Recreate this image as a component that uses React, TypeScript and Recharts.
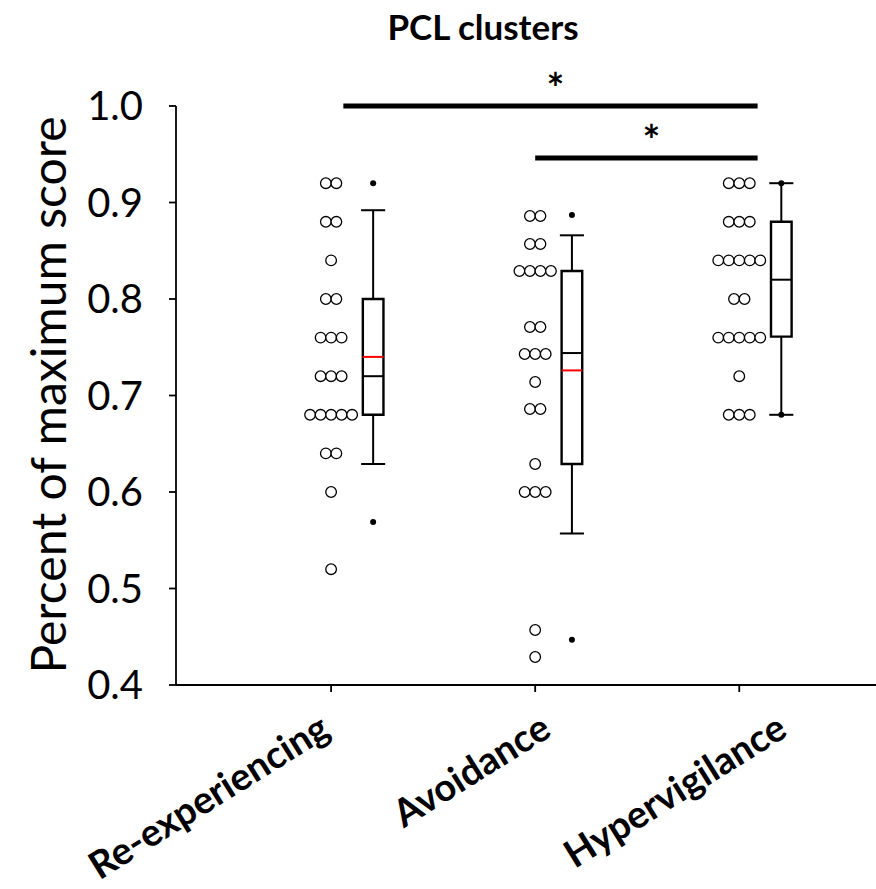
import React from "react";
import {
  ComposedChart,
  Scatter,
  XAxis,
  YAxis,
  ReferenceArea,
  ReferenceLine,
} from "recharts";

const FONT = "Lato, 'Open Sans', sans-serif";

const categories = ["Re-experiencing", "Avoidance", "Hypervigilance"];
const categoryPos = [1, 2, 3];
const yTicks = [0.4, 0.5, 0.6, 0.7, 0.8, 0.9, 1.0];

// individual subject scores (fraction of max)
const reExperiencing = [
  0.92, 0.92, 0.88, 0.88, 0.84, 0.8, 0.8, 0.76, 0.76, 0.76, 0.72, 0.72, 0.72,
  0.68, 0.68, 0.68, 0.68, 0.68, 0.64, 0.64, 0.6, 0.52,
];
const avoidance = [
  0.886, 0.886, 0.857, 0.857, 0.829, 0.829, 0.829, 0.829, 0.771, 0.771, 0.743,
  0.743, 0.743, 0.714, 0.686, 0.686, 0.629, 0.6, 0.6, 0.6, 0.457, 0.429,
];
const hypervigilance = [
  0.92, 0.92, 0.92, 0.88, 0.88, 0.88, 0.84, 0.84, 0.84, 0.84, 0.84, 0.8, 0.8,
  0.76, 0.76, 0.76, 0.76, 0.76, 0.72, 0.68, 0.68, 0.68,
];

// box plot summaries
const whiskerLow = [0.629, 0.557, 0.68];
const q1 = [0.68, 0.629, 0.761];
const median = [0.72, 0.744, 0.82];
const q3 = [0.8, 0.829, 0.88];
const whiskerHigh = [0.892, 0.866, 0.92];
const means: (number | null)[] = [0.74, 0.726, null];
const outliers = [
  [0.92, 0.569],
  [0.887, 0.447],
  [0.92, 0.68],
];

// significance brackets
const sigFrom = [1.06, 2.0];
const sigTo = [3.09, 3.09];
const sigLevel = [1.0, 0.946];

// layout
const DOT_STEP = 0.0515;
const BOX_SHIFT = [0.206, 0.18, 0.206];
const BOX_HALF = 0.0505;
const CAP_HALF = 0.059;
const LABEL_NUDGE = [1, 18, 50];

function buildDots(values: number[], pos: number) {
  const counts = new Map<number, number>();
  values.forEach((v) => counts.set(v, (counts.get(v) || 0) + 1));
  const seen = new Map<number, number>();
  return values.map((v) => {
    const n = counts.get(v) || 1;
    const k = seen.get(v) || 0;
    seen.set(v, k + 1);
    return { x: pos + (k - (n - 1) / 2) * DOT_STEP, y: v };
  });
}

const dots = [
  ...buildDots(reExperiencing, categoryPos[0]),
  ...buildDots(avoidance, categoryPos[1]),
  ...buildDots(hypervigilance, categoryPos[2]),
];

const outlierDots = outliers.flatMap((list, i) =>
  list.map((v) => ({ x: categoryPos[i] + BOX_SHIFT[i], y: v }))
);

const OpenCircle = (props: any) => (
  <circle cx={props.cx} cy={props.cy} r={5.3} fill="#fff" stroke="#000" strokeWidth={1.3} />
);
const SmallDot = (props: any) => <circle cx={props.cx} cy={props.cy} r={3} fill="#000" />;

function CategoryTick(props: any) {
  const { x, y, payload } = props;
  const i = categoryPos.indexOf(payload.value);
  if (i < 0) return null;
  const ax = x + LABEL_NUDGE[i];
  const ay = y + 41;
  return (
    <text
      x={ax}
      y={ay}
      textAnchor="end"
      transform={`rotate(-32 ${ax} ${ay})`}
      fontFamily={FONT}
      fontWeight={700}
      fontSize={38}
      fill="#000"
    >
      {categories[i]}
    </text>
  );
}

const StarLabel = (props: any) => {
  const { viewBox } = props;
  return (
    <text
      x={viewBox.x + viewBox.width / 2 + 5}
      y={viewBox.y - 2}
      textAnchor="middle"
      fontFamily={FONT}
      fontWeight={700}
      fontSize={42}
      fill="#000"
    >
      *
    </text>
  );
};

export default function App() {
  return (
    <div style={{ position: "absolute", left: 0, top: 0, width: 876, height: 889, background: "#fff" }}>
      <ComposedChart
        width={876}
        height={889}
        margin={{ top: 106, right: 0, bottom: 4, left: 0 }}
      >
        <XAxis
          type="number"
          dataKey="x"
          domain={[0.24, 3.67]}
          ticks={categoryPos}
          tickSize={7}
          height={200}
          axisLine={{ stroke: "#000", strokeWidth: 1.8 }}
          tickLine={{ stroke: "#000", strokeWidth: 1.8 }}
          tick={<CategoryTick />}
          interval={0}
          allowDataOverflow
        />
        <YAxis
          type="number"
          dataKey="y"
          domain={[0.4, 1.0]}
          ticks={yTicks}
          width={176}
          tickSize={7}
          tickMargin={26}
          tickFormatter={(v: number) => v.toFixed(1)}
          axisLine={{ stroke: "#000", strokeWidth: 1.8 }}
          tickLine={{ stroke: "#000", strokeWidth: 1.8 }}
          tick={{ fill: "#000", fontSize: 40, fontFamily: FONT }}
          allowDataOverflow
        />

        {categoryPos.map((p, i) => {
          const bx = p + BOX_SHIFT[i];
          return (
            <React.Fragment key={categories[i]}>
              <ReferenceLine
                segment={[{ x: bx, y: q3[i] }, { x: bx, y: whiskerHigh[i] }]}
                stroke="#000"
                strokeWidth={2}
              />
              <ReferenceLine
                segment={[{ x: bx, y: whiskerLow[i] }, { x: bx, y: q1[i] }]}
                stroke="#000"
                strokeWidth={2}
              />
              <ReferenceLine
                segment={[{ x: bx - CAP_HALF, y: whiskerHigh[i] }, { x: bx + CAP_HALF, y: whiskerHigh[i] }]}
                stroke="#000"
                strokeWidth={2}
              />
              <ReferenceLine
                segment={[{ x: bx - CAP_HALF, y: whiskerLow[i] }, { x: bx + CAP_HALF, y: whiskerLow[i] }]}
                stroke="#000"
                strokeWidth={2}
              />
              <ReferenceArea
                x1={bx - BOX_HALF}
                x2={bx + BOX_HALF}
                y1={q1[i]}
                y2={q3[i]}
                fill="#fff"
                fillOpacity={1}
                stroke="#000"
                strokeWidth={2.4}
              />
              <ReferenceLine
                segment={[{ x: bx - BOX_HALF, y: median[i] }, { x: bx + BOX_HALF, y: median[i] }]}
                stroke="#000"
                strokeWidth={2}
              />
              {means[i] != null && (
                <ReferenceLine
                  segment={[{ x: bx - BOX_HALF, y: means[i] as number }, { x: bx + BOX_HALF, y: means[i] as number }]}
                  stroke="#ff0000"
                  strokeWidth={2}
                />
              )}
            </React.Fragment>
          );
        })}

        {sigFrom.map((f, i) => (
          <ReferenceLine
            key={`sig-${i}`}
            segment={[{ x: f, y: sigLevel[i] }, { x: sigTo[i], y: sigLevel[i] }]}
            stroke="#000"
            strokeWidth={5}
            ifOverflow="visible"
            label={<StarLabel />}
          />
        ))}

        <Scatter data={dots} dataKey="y" shape={<OpenCircle />} isAnimationActive={false} />
        <Scatter data={outlierDots} dataKey="y" shape={<SmallDot />} isAnimationActive={false} />
      </ComposedChart>

      <svg
        width={876}
        height={889}
        style={{ position: "absolute", left: 0, top: 0, pointerEvents: "none" }}
      >
        <text x={483} y={40} textAnchor="middle" fontFamily={FONT} fontWeight={700} fontSize={35} fill="#000">
          PCL clusters
        </text>
        <text
          x={47}
          y={395}
          transform="rotate(-90 47 395)"
          textAnchor="middle"
          dominantBaseline="central"
          fontFamily={FONT}
          fontSize={48}
          fill="#000"
        >
          Percent of maximum score
        </text>
      </svg>
    </div>
  );
}
